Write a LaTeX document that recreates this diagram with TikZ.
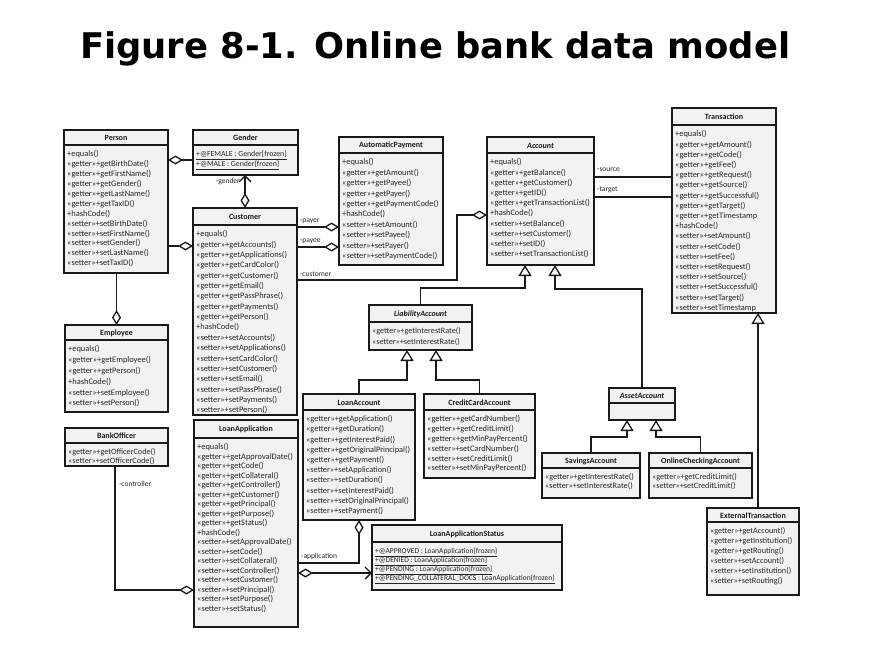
\documentclass[tikz,border=0pt]{standalone}
\usepackage{fontspec}
\setmainfont{Carlito}
\newfontfamily\titlefont{DejaVu Sans}
\usetikzlibrary{arrows.meta}
\newcommand\getr{«getter»+}
\newcommand\setr{«setter»+}
\newcommand\af[2]{\fontsize{#1}{#2}\selectfont}
\tikzset{
  classbox/.style={draw=black!90, line width=1.5pt, fill=black!5, inner sep=0pt, outer sep=0pt, rectangle},
  sepline/.style={line width=1.3pt, draw=black!90},
  ctitle/.style={font=\fontsize{8}{9}\selectfont\bfseries, inner sep=0pt, text=black!90},
  attrs/.style={inner sep=0pt, align=left, text=black!85},
  conn/.style={line width=1.5pt, draw=black!90},
  lbl/.style={font=\fontsize{7.5}{8}\selectfont, inner sep=0pt, text=black!85},
  diam/.tip={Diamond[length=15pt,width=9pt,line width=1.3pt,fill=white]},
  tri/.tip={Triangle[length=11pt,width=13pt,line width=1.3pt,fill=white]},
  barb/.tip={Straight Barb[length=6pt,width=12pt,line width=1.3pt]}
}
% #1 name, #2 x1, #3 y1, #4 x2, #5 header bottom, #6 y2, #7 title, #8 font, #9 lines
\newcommand\umlclass[9]{%
  \node[classbox, anchor=north west, minimum width={(#4-#2)*1pt}, minimum height={(#6-#3)*1pt}] (#1) at (#2,#3) {};
  \draw[sepline] (#2,#5) -- (#4,#5);
  \node[ctitle] at ({(#2+#4)/2},{(#3+#5)/2+0.5}) {#7};
  \node[attrs, anchor=north west, font=#8] at (#2+3,#5+5.5) {#9};
}
\begin{document}
\begin{tikzpicture}[x=1pt,y=-1pt]
\fill[white] (0,0) rectangle (880,666);
\useasboundingbox (0,0) rectangle (880,666);
\node[anchor=base west, inner sep=0pt] (title) at (80,59) {\resizebox{710pt}{!}{\titlefont\bfseries Figure 8-1. Online bank data model}};

\umlclass{person}{64}{130}{168}{145}{273}{Person}{\af{8.4}{9.9}}{+equals()\\\getr getBirthDate()\\\getr getFirstName()\\\getr getGender()\\\getr getLastName()\\\getr getTaxID()\\+hashCode()\\\setr setBirthDate()\\\setr setFirstName()\\\setr setGender()\\\setr setLastName()\\\setr setTaxID()}
\umlclass{gender}{193}{130}{298}{145}{175}{Gender}{\af{7.8}{10}}{\underline{+@FEMALE : Gender\{frozen\}}\\\underline{+@MALE : Gender\{frozen\}}}
\umlclass{customer}{193}{208}{297}{225}{415}{Customer}{\af{8.4}{10.35}}{+equals()\\\getr getAccounts()\\\getr getApplications()\\\getr getCardColor()\\\getr getCustomer()\\\getr getEmail()\\\getr getPassPhrase()\\\getr getPayments()\\\getr getPerson()\\+hashCode()\\\setr setAccounts()\\\setr setApplications()\\\setr setCardColor()\\\setr setCustomer()\\\setr setEmail()\\\setr setPassPhrase()\\\setr setPayments()\\\setr setPerson()}
\umlclass{autopay}{339}{137}{443}{153}{265}{AutomaticPayment}{\af{8.4}{10.4}}{+equals()\\\getr getAmount()\\\getr getPayee()\\\getr getPayer()\\\getr getPaymentCode()\\+hashCode()\\\setr setAmount()\\\setr setPayee()\\\setr setPayer()\\\setr setPaymentCode()}
\umlclass{account}{487}{137}{594}{153}{265}{\textit{Account}}{\af{8.4}{10.2}}{+equals()\\\getr getBalance()\\\getr getCustomer()\\\getr getID()\\\getr getTransactionList()\\+hashCode()\\\setr setBalance()\\\setr setCustomer()\\\setr setID()\\\setr setTransactionList()}
\umlclass{transaction}{672}{108}{776}{125}{313}{Transaction}{\af{8.4}{10.2}}{+equals()\\\getr getAmount()\\\getr getCode()\\\getr getFee()\\\getr getRequest()\\\getr getSource()\\\getr getSuccessful()\\\getr getTarget()\\\getr getTimestamp\\+hashCode()\\\setr setAmount()\\\setr setCode()\\\setr setFee()\\\setr setRequest()\\\setr setSource()\\\setr setSuccessful()\\\setr setTarget()\\\setr setTimestamp}
\umlclass{employee}{65}{325}{168}{340}{412}{Employee}{\af{8.4}{10.8}}{+equals()\\\getr getEmployee()\\\getr getPerson()\\+hashCode()\\\setr setEmployee()\\\setr setPerson()}
\umlclass{bankofficer}{65}{428}{168}{443}{466}{BankOfficer}{\af{8.2}{9}}{\getr getOfficerCode()\\\setr setOfficerCode()}
\umlclass{loanapp}{194}{420}{298}{438}{627}{LoanApplication}{\af{8.4}{9.5}}{+equals()\\\getr getApprovalDate()\\\getr getCode()\\\getr getCollateral()\\\getr getController()\\\getr getCustomer()\\\getr getPrincipal()\\\getr getPurpose()\\\getr getStatus()\\+hashCode()\\\setr setApprovalDate()\\\setr setCode()\\\setr setCollateral()\\\setr setController()\\\setr setCustomer()\\\setr setPrincipal()\\\setr setPurpose()\\\setr setStatus()}
\umlclass{liability}{369}{305}{472}{322}{350}{\textit{LiabilityAccount}}{\af{8.2}{10.5}}{\getr getInterestRate()\\\setr setInterestRate()}
\umlclass{loanacct}{303}{394}{415}{410}{520}{LoanAccount}{\af{8.3}{10.2}}{\getr getApplication()\\\getr getDuration()\\\getr getInterestPaid()\\\getr getOriginalPrincipal()\\\getr getPayment()\\\setr setApplication()\\\setr setDuration()\\\setr setInterestPaid()\\\setr setOriginalPrincipal()\\\setr setPayment()}
\umlclass{creditcard}{424}{394}{535}{410}{478}{CreditCardAccount}{\af{8.4}{9.8}}{\getr getCardNumber()\\\getr getCreditLimit()\\\getr getMinPayPercent()\\\setr setCardNumber()\\\setr setCreditLimit()\\\setr setMinPayPercent()}
\umlclass{lastatus}{372}{525}{562}{542}{590}{LoanApplicationStatus}{\af{7.5}{9}}{\underline{+@APPROVED : LoanApplication\{frozen\}}\\\underline{+@DENIED : LoanApplication\{frozen\}}\\\underline{+@PENDING : LoanApplication\{frozen\}}\\\underline{+@PENDING\_COLLATERAL\_DOCS : LoanApplication\{frozen\}}}
\umlclass{asset}{609}{388}{675}{403}{420}{\textit{AssetAccount}}{\af{8}{10}}{}
\umlclass{savings}{542}{453}{640}{468}{498}{SavingsAccount}{\af{8.2}{9}}{\getr getInterestRate()\\\setr setInterestRate()}
\umlclass{online}{649}{453}{752}{468}{498}{OnlineCheckingAccount}{\af{8.2}{9}}{\getr getCreditLimit()\\\setr setCreditLimit()}
\umlclass{exttrans}{707}{508}{799}{522}{595}{ExternalTransaction}{\af{8.2}{10}}{\getr getAccount()\\\getr getInstitution()\\\getr getRouting()\\\setr setAccount()\\\setr setInstitution()\\\setr setRouting()}

% associations
\draw[conn, diam-] (person.east|-0,160) -- (gender.west|-0,160);
\draw[conn, diam-] (customer.west|-0,246) -- (person.east|-0,246);
\draw[conn, diam-] (employee.north) -- (employee.north|-person.south);
\draw[conn, diam-barb] (customer.north) -- (customer.north|-gender.south);
\node[lbl, anchor=east] (lgender) at (240,182) {-gender};
\draw[conn, -diam] (customer.east|-0,227) -- (autopay.west|-0,227);
\node[lbl, anchor=west] (lpayer) at (300,221) {-payer};
\draw[conn, -diam] (customer.east|-0,247) -- (autopay.west|-0,247);
\node[lbl, anchor=west] (lpayee) at (300,241) {-payee};
\draw[conn, -diam] (customer.east|-0,280) -- (457,280) -- (457,215) -- (account.west|-0,215);
\node[lbl, anchor=west] (lcust) at (300,274) {-customer};
\draw[conn] (account.east|-0,177) -- (transaction.west|-0,177);
\node[lbl, anchor=west] (lsource) at (597,170) {-source};
\draw[conn] (account.east|-0,197) -- (transaction.west|-0,197);
\node[lbl, anchor=west] (ltarget) at (597,190) {-target};
\draw[conn, diam-] (loanacct.south) |- (loanapp.east|-0,563);
\node[lbl, anchor=west] (lappl) at (301,556) {-application};
\draw[conn, diam-barb] (loanapp.east|-0,573) -- (lastatus.west|-0,573);
\draw[conn, -diam] (bankofficer.south-|115,0) |- (loanapp.west|-0,590);
\node[lbl, anchor=west] (lctrl) at (119,484) {-controller};

% generalizations
\draw[conn, -tri] (liability.north) |- (525,288) -- (525,0|-account.south);
\draw[conn, -tri] (asset.north) |- (555,289) -- (555,0|-account.south);
\draw[conn, -tri] (loanacct.north) |- (407,380) -- (407,0|-liability.south);
\draw[conn, -tri] (creditcard.north) |- (436,380) -- (436,0|-liability.south);
\draw[conn, -tri] (savings.north) |- (627,437) -- (627,0|-asset.south);
\draw[conn, -tri] (online.north) |- (656,437) -- (656,0|-asset.south);
\draw[conn, -tri] (exttrans.north-|758,0) -- (758,0|-transaction.south);
\end{tikzpicture}
\end{document}
